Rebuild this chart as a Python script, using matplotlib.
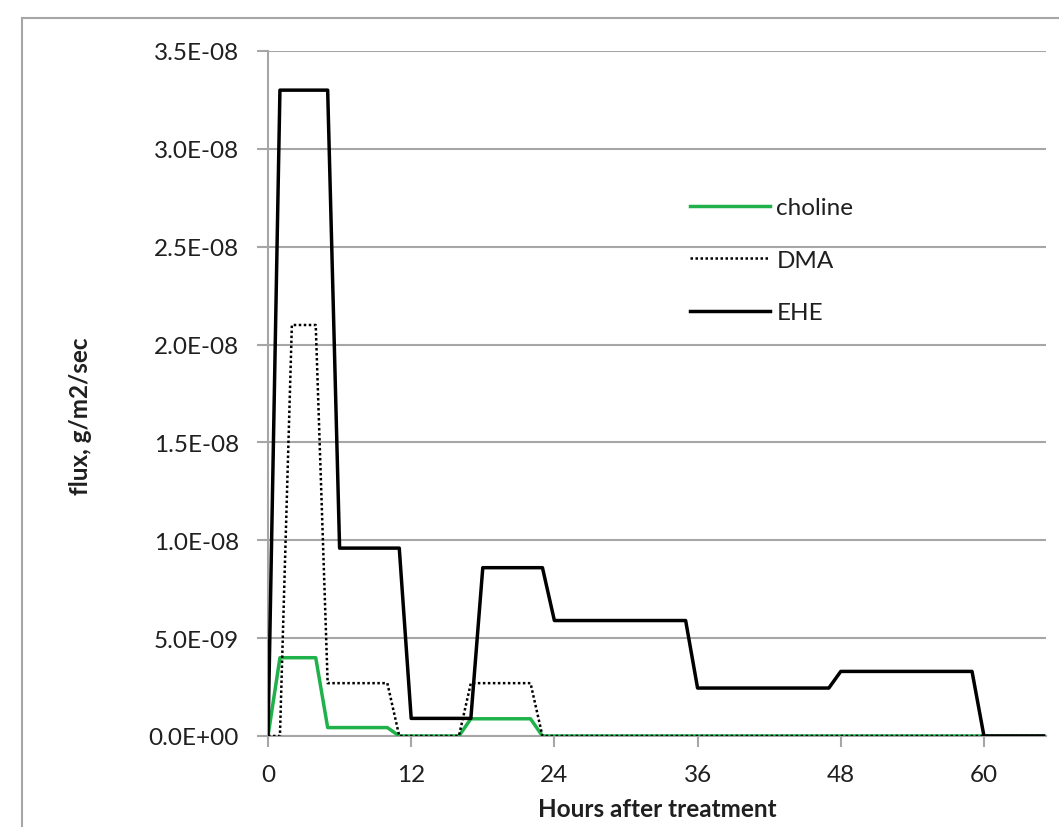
import numpy as np
import matplotlib.pyplot as plt
from matplotlib.ticker import FuncFormatter, MultipleLocator
from matplotlib.patches import Rectangle

# hourly flux values, g/m2/sec
hours = np.arange(0, 66)

choline = np.zeros(66)
choline[1:5] = 4.0e-9
choline[5:11] = 4.3e-10
choline[17:23] = 8.8e-10

dma = np.zeros(66)
dma[2:5] = 2.1e-8
dma[5:11] = 2.7e-9
dma[17:23] = 2.7e-9

ehe = np.zeros(66)
ehe[1:6] = 3.3e-8
ehe[6:12] = 9.6e-9
ehe[12:18] = 9.0e-10
ehe[18:24] = 8.6e-9
ehe[24:36] = 5.9e-9
ehe[36:48] = 2.45e-9
ehe[48:60] = 3.3e-9

plt.rcParams['font.family'] = ['Lato', 'DejaVu Sans']
txt = '#1f1f1f'
fs = 17.5

fig = plt.figure(figsize=(10.59, 8.28), dpi=100)
ax = fig.add_axes([268 / 1059, 1 - 737 / 828, 778 / 1059, 685 / 828])

# outer chart border
fig.patches.append(Rectangle((22 / 1059, -0.1), 1.2, 1 - 19 / 828 + 0.1,
                             transform=fig.transFigure, fill=False,
                             edgecolor='#a6a6a6', lw=1.5))

ax.plot(hours, choline, color='#1fb24a', lw=2.5, label='choline', zorder=3)
ax.plot(hours, dma, color='black', lw=1.8, ls=(0, (1, 1)), label='DMA', zorder=4)
ax.plot(hours, ehe, color='black', lw=2.5, label='EHE', zorder=5)

ax.set_xlim(0, 65.2)
ax.set_ylim(0, 3.5e-8)
ax.xaxis.set_major_locator(MultipleLocator(12))
ax.yaxis.set_major_locator(MultipleLocator(5e-9))
ax.yaxis.set_major_formatter(FuncFormatter(lambda v, p: f"{v:.1E}"))

ax.grid(axis='y', color='#a6a6a6', lw=1.5)
ax.set_axisbelow(True)
for s in ['top', 'right']:
    ax.spines[s].set_visible(False)
for s in ['left', 'bottom']:
    ax.spines[s].set_color('#a6a6a6')
    ax.spines[s].set_linewidth(1.5)
ax.tick_params(axis='both', colors='#a6a6a6', labelcolor=txt,
               labelsize=fs, length=8, width=1.5)
ax.tick_params(axis='y', pad=13)
ax.tick_params(axis='x', pad=12)

ax.set_xlabel("Hours after treatment", fontsize=fs, fontweight='bold',
              color=txt, va='center')
ax.xaxis.set_label_coords(0.5, -73 / 685)
ax.set_ylabel("flux, g/m2/sec", fontsize=fs, fontweight='bold',
              color=txt, va='center', ha='center')
ax.yaxis.set_label_coords(-188 / 778, 321 / 685)

ax.legend(loc='upper left', bbox_to_anchor=(690 / 1059, 1 - 198 / 828),
          bbox_transform=fig.transFigure, frameon=False, borderpad=0,
          borderaxespad=0, fontsize=fs, handlelength=3.3, handletextpad=0.25,
          labelspacing=1.3, labelcolor=txt)

fig.savefig('out.png', dpi=100)
